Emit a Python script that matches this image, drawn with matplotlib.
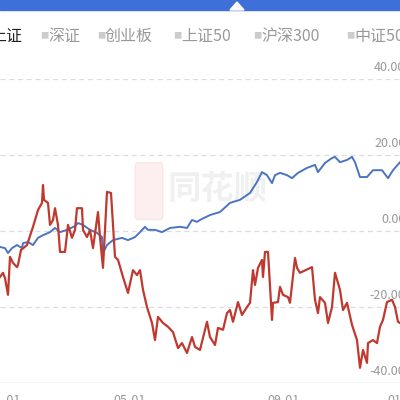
import matplotlib.pyplot as plt
from matplotlib.patches import Rectangle, FancyBboxPatch, Polygon

plt.rcParams['font.family'] = ['Noto Sans CJK SC', 'DejaVu Sans']

# horizontal position (screen units 0..400) and return in %
blue_x = [0, 5, 8, 12, 17, 22, 23, 28, 33, 38, 43, 50, 55, 60, 67, 75, 78, 83, 90, 97,
          102, 103, 107, 113, 122, 128, 135, 140, 145, 148, 155, 162, 170, 180, 187, 192,
          197, 200, 210, 220, 230, 240, 250, 257, 262, 267, 272, 275, 280, 287, 292, 298,
          307, 315, 318, 325, 332, 335, 340, 347, 352, 355, 360, 367, 373, 382, 388, 393, 400]
blue_y = [-4.2, -4.5, -5.8, -4.5, -3.7, -4.5, -3.2, -2.9, -3.7, -1.8, -1.1, -0.3, 0.8, -0.3,
          0.3, 1.3, 2.1, 1.6, 0.3, -0.5, -1.6, -5.8, -3.7, -2.4, -1.8, -2.4, -1.6, -0.3, 1.1,
          0.3, 0.3, -0.3, 0.8, 1.1, 0.8, 2.9, 2.4, 2.9, 4.2, 5.0, 7.4, 8.2, 10.0, 12.9, 15.5,
          14.7, 12.6, 14.7, 15.3, 14.7, 13.9, 15.3, 16.6, 17.4, 15.5, 17.9, 19.2, 19.5, 18.1,
          18.7, 19.5, 18.1, 14.2, 14.2, 16.0, 16.0, 13.9, 16.0, 18.1]

red_x = [0, 3, 5, 8, 10, 13, 17, 18, 21, 27, 33, 38, 42, 43, 44, 48, 50, 53, 55, 58, 60,
         65, 68, 72, 75, 77, 82, 83, 87, 90, 93, 98, 100, 103, 107, 111, 115, 118, 123, 128,
         133, 137, 140, 143, 147, 152, 155, 158, 163, 168, 173, 178, 182, 187, 192, 195, 200,
         207, 210, 215, 218, 223, 227, 230, 233, 238, 242, 247, 250, 253, 255, 258, 262, 263,
         265, 268, 272, 273, 278, 280, 283, 288, 290, 295, 297, 300, 312, 315, 318, 320, 325,
         328, 332, 335, 340, 343, 347, 352, 357, 360, 363, 367, 368, 373, 377, 380, 383, 387,
         392, 395, 398, 400]
red_y = [-12.1, -11.0, -12.4, -16.8, -6.8, -8.4, -9.5, -8.9, -5.0, -3.7, 1.1, 5.5, 7.4, 12.1,
         8.2, 7.4, 1.6, 2.9, 6.0, 1.6, -5.5, -5.5, 1.6, -1.8, 0.3, 6.0, 6.0, 0.3, -1.6, 0.3,
         -4.5, 5.0, -1.6, -9.7, 10.3, 10.0, -6.8, -7.6, -12.1, -16.3, -10.3, -11.6, -10.3,
         -15.5, -20.0, -24.2, -28.7, -22.6, -24.2, -25.2, -26.6, -30.8, -29.5, -32.1, -27.9,
         -30.5, -31.3, -23.9, -27.9, -30.0, -25.5, -26.0, -21.6, -20.8, -23.9, -18.7, -22.1,
         -20.0, -18.9, -10.3, -14.2, -9.7, -7.6, -12.1, -5.5, -5.5, -23.4, -18.9, -18.7, -14.7,
         -16.8, -17.4, -18.9, -7.1, -9.7, -11.0, -9.5, -18.1, -21.6, -17.4, -18.9, -24.2, -20.0,
         -11.0, -15.5, -20.8, -18.9, -24.7, -28.7, -36.0, -31.3, -34.7, -29.5, -28.7, -29.5,
         -25.2, -23.4, -18.7, -18.1, -20.0, -23.9, -24.2]

y_ticks = [40, 20, 0, -20, -40]
x_tick_pos = [5, 130, 283, 404]
x_tick_labels = ['01-01', '05-01', '09-01', '01-01']
tabs = ['上证', '深证', '创业板', '上证50', '沪深300', '中证500']
tab_pos = [-10, 40, 97, 173, 253, 346]

fig = plt.figure(figsize=(4, 4), dpi=100)
fig.patch.set_facecolor('white')

# top banner
fig.patches.append(Rectangle((0, 0.975), 1, 0.025, transform=fig.transFigure,
                             color='#3f6fd8', zorder=0))
fig.patches.append(Polygon([(0.575, 0.975), (0.5925, 0.995), (0.61, 0.975)],
                           transform=fig.transFigure, color='white', zorder=1))

for t, px in zip(tabs, tab_pos):
    if t == '上证':
        fig.text(px / 400, 0.91, t, fontsize=11.5, color='#222222', va='center')
    else:
        fig.text(px / 400, 0.91, '■', fontsize=6, color='#cccccc', va='center')
        fig.text((px + 8) / 400, 0.91, t, fontsize=11.5, color='#999999', va='center')

ax = fig.add_axes([0, 0.0425, 1, 0.76])
ax.set_xlim(0, 400)
ax.set_ylim(-40, 40)
for v in y_ticks[:-1]:
    ax.axhline(v, color='#dddddd', lw=0.9, ls=(0, (4, 3)), zorder=0)
ax.axhline(-40, color='#cccccc', lw=1, zorder=0)
for v in y_ticks:
    ax.text(417, v + 1.4, f'{v:.2f}%', ha='right', va='bottom', fontsize=9,
            color='#999999', clip_on=False)
for xp, lab in zip(x_tick_pos, x_tick_labels):
    ax.text(xp, -43, lab, ha='center', va='top', fontsize=9, color='#999999', clip_on=False)

# watermark
ax.add_patch(FancyBboxPatch((137, 5), 24, 11, boxstyle='round,pad=2',
                            color='#e8393a', alpha=0.08, zorder=0))
ax.text(168, 11, '同花顺', fontsize=24, color='#000000', alpha=0.06,
        va='center', ha='left', fontweight='bold', zorder=0)

ax.plot(blue_x, blue_y, color='#4a74c2', lw=1.4)
ax.plot(red_x, red_y, color='#c0392f', lw=1.6)

for s in ax.spines.values():
    s.set_visible(False)
ax.set_xticks([])
ax.set_yticks([])

fig.savefig('out.png', dpi=100)
